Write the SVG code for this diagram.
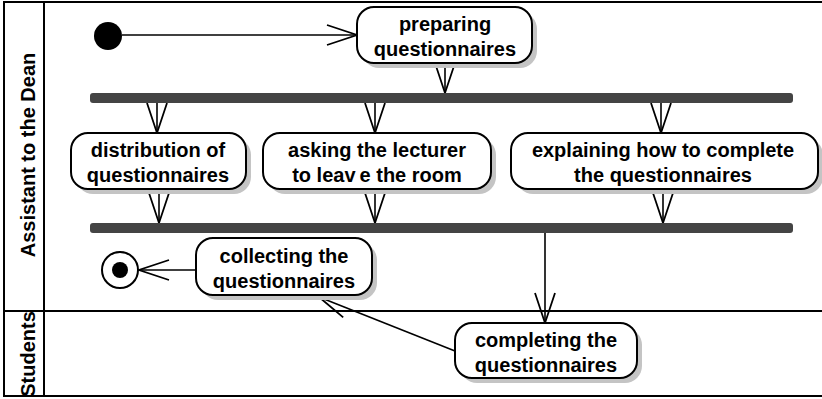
<svg xmlns="http://www.w3.org/2000/svg" width="822" height="399" viewBox="0 0 822 399">
<style>
  .frame { fill: none; stroke: #000; stroke-width: 2; }
  .shadow { fill: #c4c4c4; stroke: none; }
  .node { fill: #fff; stroke: #000; stroke-width: 2; }
  .bar { fill: #444; }
  .txt { font-family: "Liberation Sans", Arial, sans-serif; font-weight: bold; font-size: 20px; text-anchor: middle; fill: #000; }
  .lane { font-family: "Liberation Sans", Arial, sans-serif; font-weight: bold; font-size: 20px; text-anchor: middle; fill: #000; }
  .edge { fill: none; stroke: #000; stroke-width: 1.6; }
</style>
<defs>
  <marker id="open" markerUnits="userSpaceOnUse" viewBox="-32 -12 34 24" refX="0" refY="0" markerWidth="34" markerHeight="24" orient="auto" overflow="visible">
    <path d="M-30,-10 L0,0 L-30,10" fill="none" stroke="#000" stroke-width="1.8"/>
  </marker>
</defs>
<rect x="0" y="0" width="822" height="399" fill="#fff"/>

<g id="swimlanes">
  <rect class="frame" x="4" y="2" width="824" height="394"/>
  <line class="frame" x1="44" y1="2" x2="44" y2="396"/>
  <line class="frame" x1="4" y1="311" x2="828" y2="311"/>
  <text class="lane" transform="translate(35,155) rotate(-90)">Assistant to the Dean</text>
  <text class="lane" transform="translate(35,354) rotate(-90)">Students</text>
</g>

<g id="connectors">
  <line class="edge" x1="122" y1="35" x2="357" y2="35" marker-end="url(#open)"/>
  <line class="edge" x1="445" y1="63" x2="445" y2="93" marker-end="url(#open)"/>
  <line class="edge" x1="157" y1="103" x2="157" y2="133" marker-end="url(#open)"/>
  <line class="edge" x1="375" y1="103" x2="375" y2="133" marker-end="url(#open)"/>
  <line class="edge" x1="661" y1="103" x2="661" y2="133" marker-end="url(#open)"/>
  <line class="edge" x1="159" y1="189" x2="159" y2="223" marker-end="url(#open)"/>
  <line class="edge" x1="375" y1="189" x2="375" y2="223" marker-end="url(#open)"/>
  <line class="edge" x1="663" y1="189" x2="663" y2="223" marker-end="url(#open)"/>
  <line class="edge" x1="545" y1="233" x2="545" y2="323" marker-end="url(#open)"/>
  <line class="edge" x1="455" y1="351" x2="319" y2="297" marker-end="url(#open)"/>
  <line class="edge" x1="196" y1="270" x2="139" y2="270" marker-end="url(#open)"/>
</g>

<g id="initial">
  <circle cx="108" cy="36" r="14" fill="#000"/>
</g>

<g id="preparing">
  <rect class="shadow" x="362" y="12" width="175" height="56" rx="17"/>
  <rect class="node" x="357" y="7" width="175" height="56" rx="17"/>
  <text class="txt" x="445" y="31">preparing</text>
  <text class="txt" x="445" y="56">questionnaires</text>
</g>

<g id="fork1">
  <rect class="bar" x="90" y="93" width="703" height="10" rx="3"/>
</g>

<g id="distribution">
  <rect class="shadow" x="76" y="138" width="175" height="56" rx="17"/>
  <rect class="node" x="71" y="133" width="175" height="56" rx="17"/>
  <text class="txt" x="158" y="157">distribution of</text>
  <text class="txt" x="158" y="182">questionnaires</text>
</g>

<g id="asking">
  <rect class="shadow" x="268" y="138" width="228" height="56" rx="17"/>
  <rect class="node" x="263" y="133" width="228" height="56" rx="17"/>
  <text class="txt" x="377" y="157">asking the lecturer</text>
  <text class="txt" x="377" y="182">to leav<tspan dx="4">e</tspan> the room</text>
</g>

<g id="explaining">
  <rect class="shadow" x="516" y="138" width="307" height="56" rx="17"/>
  <rect class="node" x="511" y="133" width="307" height="56" rx="17"/>
  <text class="txt" x="663" y="157">explaining how to complete</text>
  <text class="txt" x="663" y="182">the questionnaires</text>
</g>

<g id="join">
  <rect class="bar" x="90" y="223" width="703" height="10" rx="3"/>
</g>

<g id="collecting">
  <rect class="shadow" x="201" y="243" width="176" height="57" rx="17"/>
  <rect class="node" x="196" y="238" width="176" height="57" rx="17"/>
  <text class="txt" x="284" y="263">collecting the</text>
  <text class="txt" x="284" y="288">questionnaires</text>
</g>

<g id="final">
  <circle cx="120" cy="270" r="18" fill="#fff" stroke="#000" stroke-width="2"/>
  <circle cx="120" cy="270" r="8" fill="#000"/>
</g>

<g id="completing">
  <rect class="shadow" x="460" y="328" width="182" height="55" rx="17"/>
  <rect class="node" x="455" y="323" width="182" height="55" rx="17"/>
  <text class="txt" x="546" y="347">completing the</text>
  <text class="txt" x="546" y="372">questionnaires</text>
</g>
</svg>
